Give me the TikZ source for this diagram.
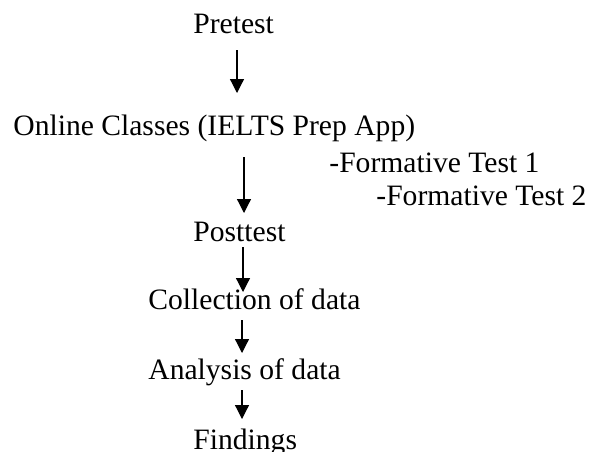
\documentclass[tikz,border=0pt]{standalone}
\usepackage{fontspec}
\setmainfont{Liberation Serif}
\usetikzlibrary{arrows.meta}

\tikzset{
  step label/.style={anchor=base west,inner sep=0pt,font=\fontsize{14.8pt}{17pt}\selectfont},
  flow/.style={-{Triangle[length=7pt,width=7pt]},line width=0.6pt}
}

\begin{document}
\begin{tikzpicture}[x=0.5pt,y=-0.5pt]
\useasboundingbox (0,0) rectangle (592,451);

\node[step label] (pre) at (193,33) {Pretest};
\node[step label] (online) at (13,135) {Online Classes (IELTS Prep App)};
\node[step label] (ft1) at (329,172) {-Formative Test 1};
\node[step label] (ft2) at (376,205) {-Formative Test 2};
\node[step label] (post) at (193,241) {Posttest};
\node[step label] (coll) at (148,309) {Collection of data};
\node[step label] (anal) at (148,379) {Analysis of data};
\node[step label] (find) at (193,449) {Findings};

% arrow ends
\coordinate (t1) at (237,50);  \coordinate (h1) at (237,93);
\coordinate (t2) at (244,157); \coordinate (h2) at (244,213);
\coordinate (t3) at (243,247); \coordinate (h3) at (243,292);
\coordinate (t4) at (242,320); \coordinate (h4) at (242,353);
\coordinate (t5) at (242,390); \coordinate (h5) at (242,419);

\draw [flow] (t1) -- (h1);
\draw [flow] (t2) -- (h2);
\draw [flow] (t3) -- (h3);
\draw [flow] (t4) -- (h4);
\draw [flow] (t5) -- (h5);
\end{tikzpicture}
\end{document}
